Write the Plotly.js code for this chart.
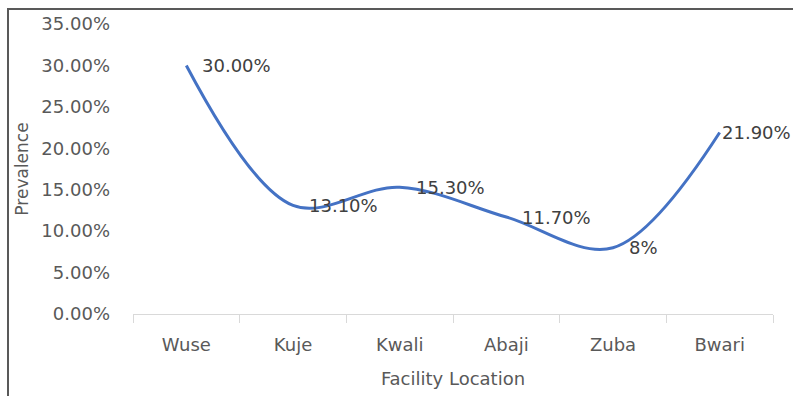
<!DOCTYPE html>
<html>
<head>
<meta charset="utf-8">
<script src="https://cdn.plot.ly/plotly-3.0.1.min.js"></script>
<style>
  html, body { margin: 0; padding: 0; background: #fff; }
  #wrap { position: relative; width: 793px; height: 396px; overflow: hidden; }
  #chart { width: 793px; height: 396px; }
  #frame { position: absolute; left: 7px; top: 8px; width: 800px; height: 400px;
           border-top: 2px solid #595959; border-left: 2px solid #595959; pointer-events: none; }
</style>
</head>
<body>
<div id="wrap">
  <div id="chart"></div>
  <div id="frame"></div>
</div>
<script>
// Prevalence by facility location
const locations = ["Wuse", "Kuje", "Kwali", "Abaji", "Zuba", "Bwari"];
const prevalence = [30.0, 13.1, 15.3, 11.7, 8.0, 21.9];
const pointLabels = ["30.00%", "13.10%", "15.30%", "11.70%", "8%", "21.90%"];
const yTicks = [0, 5, 10, 15, 20, 25, 30, 35];

const font = "DejaVu Sans, sans-serif";

const trace = {
  x: locations,
  y: prevalence,
  type: "scatter",
  mode: "lines",
  line: { color: "#4472C4", width: 3, shape: "spline", smoothing: 1 },
  hoverinfo: "skip"
};

// value labels sit to the right of each point; the last one is kept inside the frame
const labelAnnotations = locations.map((loc, i) => ({
  x: loc,
  y: prevalence[i],
  xref: "x",
  yref: "y",
  text: pointLabels[i],
  showarrow: false,
  xanchor: "left",
  yanchor: "middle",
  xshift: i === locations.length - 1 ? 0 : 14,
  font: { family: font, size: 18, color: "#404040" }
}));

const layout = {
  width: 793,
  height: 396,
  margin: { l: 133, r: 20, t: 24, b: 82 },
  paper_bgcolor: "#fff",
  plot_bgcolor: "#fff",
  showlegend: false,
  annotations: labelAnnotations,
  xaxis: {
    type: "category",
    range: [-0.5, locations.length - 0.5],
    showgrid: false,
    showline: true,
    linecolor: "#d9d9d9",
    linewidth: 1,
    ticks: "outside",
    tickson: "boundaries",
    ticklen: 8,
    tickcolor: "#d9d9d9",
    ticklabelstandoff: 14,
    tickfont: { family: font, size: 18, color: "#595959" },
    title: { text: "Facility Location", font: { family: font, size: 18, color: "#595959" }, standoff: 18 },
    zeroline: false
  },
  yaxis: {
    range: [0, 35],
    tickvals: yTicks,
    ticktext: yTicks.map(v => v.toFixed(2) + "%"),
    showgrid: false,
    showline: false,
    zeroline: false,
    ticks: "",
    ticklabelstandoff: 22,
    tickfont: { family: font, size: 18, color: "#595959" },
    title: { text: "Prevalence", font: { family: font, size: 17, color: "#595959" }, standoff: 8 }
  }
};

Plotly.newPlot("chart", [trace], layout, { displayModeBar: false, staticPlot: true });
</script>
</body>
</html>
